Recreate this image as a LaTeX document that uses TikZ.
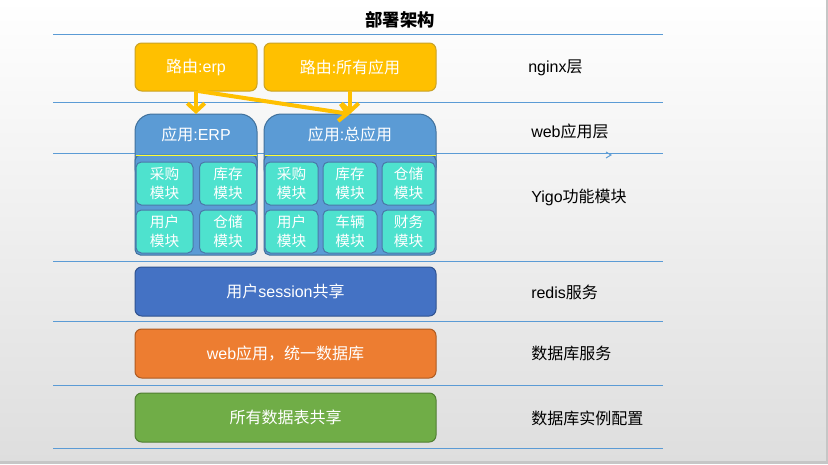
\documentclass[tikz,border=0pt]{standalone}
\usepackage{fontspec}
\setmainfont{Noto Sans CJK SC}
\newfontfamily\lat{Liberation Sans}
\usetikzlibrary{arrows.meta}
\definecolor{bgbot}{HTML}{DEDEDE}
\definecolor{edgegray}{HTML}{C6C6C6}
\definecolor{rule}{HTML}{5B9BD5}
\definecolor{ygold}{HTML}{FFC000}
\definecolor{ygoldd}{HTML}{C9A227}
\definecolor{cblue}{HTML}{5B9BD5}
\definecolor{cblued}{HTML}{41719C}
\definecolor{modfill}{HTML}{4EE2CE}
\definecolor{modline}{HTML}{4A78A8}
\definecolor{rblue}{HTML}{4472C4}
\definecolor{rblued}{HTML}{2F528F}
\definecolor{orng}{HTML}{ED7D31}
\definecolor{orngd}{HTML}{AE5A21}
\definecolor{grn}{HTML}{70AD47}
\definecolor{grnd}{HTML}{507E32}
\definecolor{hdrline}{HTML}{FFFF33}
\tikzset{
  sz/.style 2 args={minimum width=#1*0.75pt, minimum height=#2*0.75pt},
  box/.style={draw, line width=0.75pt, rounded corners=5pt, text=white, inner sep=0pt, outer sep=0pt, font=\fontsize{12}{14}\selectfont},
  route/.style={box, fill=ygold, draw=ygoldd},
  modbox/.style={draw=modline, fill=modfill, line width=0.75pt, rounded corners=4pt, text=white, inner sep=0pt, outer sep=0pt, align=center, font=\fontsize{11}{14}\selectfont},
  cont/.style={fill=cblue, draw=cblued, line width=0.75pt},
  hdrtext/.style={text=white, inner sep=0pt, outer sep=0pt, font=\fontsize{12}{14}\selectfont},
  layer/.style={anchor=west, text=black, inner sep=0pt, font=\fontsize{12}{14}\selectfont},
  rulel/.style={draw=rule, line width=0.75pt},
  flow/.style={draw=ygold, line width=3pt, -{Straight Barb[length=6pt,width=13pt]}},
}
\begin{document}
\begin{tikzpicture}[x=0.75pt,y=-0.75pt]
\useasboundingbox (0,0) rectangle (828,464);
% background
\shade[top color=white, bottom color=bgbot] (0,0) rectangle (828,461);
\fill[edgegray] (0,461) rectangle (828,464);
\fill[edgegray] (826,0) rectangle (828,461);
% horizontal rules
\foreach \yy in {34,102,153,261,321,385,448} { \draw[rulel] (53,\yy) -- (663,\yy); }
\draw[draw=rule, line width=0.75pt] (606,152) -- (611,155) -- (606,158);
% title
\node[font=\fontsize{13}{14}\selectfont\bfseries, inner sep=0pt] (title) at (400,20) {部署架构};
% nginx layer
\node[route, sz={122}{48}] (r1) at (196,67) {路由{\lat :erp}};
\node[route, sz={172}{48}] (r2) at (350,67) {路由{\lat :}所有应用};
% web app containers
\draw[cont, rounded corners=13pt] (135,114) rectangle (257,185);
\draw[cont, rounded corners=4pt] (135,155) rectangle (257,255);
\draw[draw=hdrline, line width=0.75pt] (135.5,155) -- (256.5,155);
\node[hdrtext, sz={122}{41}] (h1) at (196,134.5) {应用{\lat :ERP}};
\draw[cont, rounded corners=13pt] (264,114) rectangle (436,185);
\draw[cont, rounded corners=4pt] (264,155) rectangle (436,255);
\draw[draw=hdrline, line width=0.75pt] (264.5,155) -- (435.5,155);
\node[hdrtext, sz={172}{41}] (h2) at (350,134.5) {应用{\lat :}总应用};
% modules left
\node[modbox, sz={57}{43}] (m11) at (164.5,183.5) {采购\\模块};
\node[modbox, sz={57}{43}] (m12) at (228,183.5) {库存\\模块};
\node[modbox, sz={57}{43}] (m13) at (164.5,231.5) {用户\\模块};
\node[modbox, sz={57}{43}] (m14) at (228,231.5) {仓储\\模块};
% modules right
\node[modbox, sz={53}{43}] (m21) at (291.5,183.5) {采购\\模块};
\node[modbox, sz={54}{43}] (m22) at (350,183.5) {库存\\模块};
\node[modbox, sz={53}{43}] (m23) at (408.5,183.5) {仓储\\模块};
\node[modbox, sz={53}{43}] (m24) at (291.5,231.5) {用户\\模块};
\node[modbox, sz={54}{43}] (m25) at (350,231.5) {车辆\\模块};
\node[modbox, sz={53}{43}] (m26) at (408.5,231.5) {财务\\模块};
% arrows
\draw[flow] (r1.south) -- (h1.north);
\draw[flow] (r2.south) -- (h2.north);
\draw[flow] ([xshift=1.5pt]r1.south) -- (h2.north);
% lower layers
\node[box, fill=rblue, draw=rblued, sz={301}{49}] (redis) at (285.5,291.5) {用户{\lat session}共享};
\node[box, fill=orng, draw=orngd, sz={301}{49}] (db) at (285.5,353.5) {{\lat web}应用，统一数据库};
\node[box, fill=grn, draw=grnd, sz={301}{49}] (inst) at (285.5,417.5) {所有数据表共享};
% layer labels
\node[layer] (l1) at (528,68) {{\lat nginx}层};
\node[layer] (l2) at (531,131) {{\lat web}应用层};
\node[layer] (l3) at (531,197) {{\lat Yigo}功能模块};
\node[layer] (l4) at (531,292) {{\lat redis}服务};
\node[layer] (l5) at (531,353) {数据库服务};
\node[layer] (l6) at (531,418) {数据库实例配置};
\end{tikzpicture}
\end{document}
